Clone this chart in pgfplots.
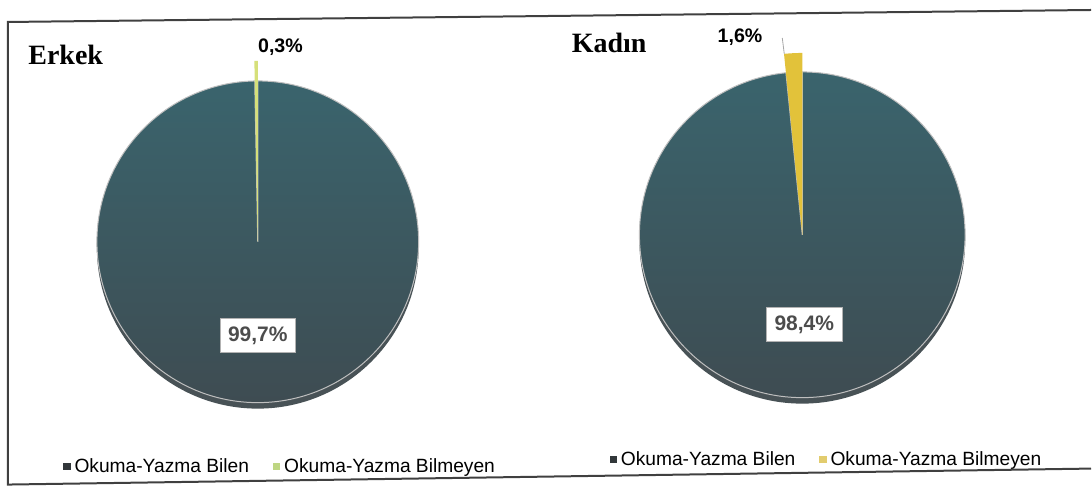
\documentclass[border=0pt]{standalone}
\usepackage{pgfplots}
\usepackage{pgfplotstable}
\pgfplotsset{compat=1.18}
\usepackage{fontspec}
\setmainfont{Liberation Serif}
\newfontfamily\arial{Liberation Sans}
\definecolor{pietop}{RGB}{58,100,109}
\definecolor{piebot}{RGB}{62,76,82}
\definecolor{rim}{RGB}{72,82,86}
\definecolor{erkY}{RGB}{214,224,122}
\definecolor{kadY}{RGB}{226,194,58}
\definecolor{legdark}{RGB}{50,55,58}
\definecolor{legE}{RGB}{190,214,130}
\definecolor{legK}{RGB}{226,204,110}

\pgfplotstableread{
group value
Bilen 99.7
Bilmeyen 0.3
}\erkekdata
\pgfplotstableread{
group value
Bilen 98.4
Bilmeyen 1.6
}\kadindata

\begin{document}
\begin{tikzpicture}
\pgfplotstablegetelem{0}{value}\of\erkekdata
\pgfmathsetmacro\eA{90-3.6*\pgfplotsretval}
\pgfplotstablegetelem{0}{value}\of\kadindata
\pgfmathsetmacro\kA{90-3.6*\pgfplotsretval}
\pgfplotsset{pieaxis/.style={x=0.5pt,y=0.5pt, ymin=0, ymax=494, hide axis, clip=false, anchor=south west,
  legend image code/.code={\fill[##1] (0pt,-1.6pt) rectangle (3.2pt,1.6pt);},
  legend style={draw=none, fill=none, legend columns=2, font=\arial\fontsize{9.6}{11}\selectfont, anchor=west,
    /tikz/every even column/.append style={column sep=10pt}},
  legend cell align=left}}

\begin{axis}[pieaxis, xmin=0, xmax=546, at={(0pt,0pt)}, legend style={at={(0.1044,0.0547)}}]
\addlegendimage{legdark}
\addlegendentry{Okuma-Yazma Bilen}
\addlegendimage{legE}
\addlegendentry{Okuma-Yazma Bilmeyen}
\fill[rim] (258,246) circle[radius=80.5pt];
\draw[draw=black!25, line width=0.5pt, top color=pietop, bottom color=piebot]
  (258,252) -- ++(90:80.5pt) arc[start angle=90, end angle=\eA, radius=80.5pt] -- cycle;
\fill[erkY] (258,252) -- ++(\eA:90.5pt) arc[start angle=\eA, end angle=-270, radius=90.5pt] -- cycle;
\node[anchor=base west, inner sep=0pt, font=\bfseries\fontsize{14}{17}\selectfont] at (28,429) {Erkek};
\node[anchor=base west, inner sep=0pt, font=\arial\bfseries\fontsize{9.8}{11}\selectfont] at (258,441) {0,3\%};
\node[fill=white, draw=black!30, text=black!70, font=\arial\bfseries\fontsize{10.5}{12}\selectfont, inner xsep=4pt, minimum height=17pt] at (258,158) {99,7\%};
\end{axis}

\begin{axis}[pieaxis, xmin=546, xmax=1092, at={(273pt,0pt)}, legend style={at={(0.106,0.0688)}}]
\addlegendimage{legdark}
\addlegendentry{Okuma-Yazma Bilen}
\addlegendimage{legK}
\addlegendentry{Okuma-Yazma Bilmeyen}
\fill[rim] (803,253) circle[radius=81.5pt];
\draw[draw=black!25, line width=0.5pt, top color=pietop, bottom color=piebot]
  (803,259) -- ++(90:81.5pt) arc[start angle=90, end angle=\kA, radius=81.5pt] -- cycle;
\fill[kadY] (803,259) -- ++(\kA:91pt) arc[start angle=\kA, end angle=-270, radius=91pt] -- cycle;
\draw[black!35, line width=0.4pt] (785,440) -- (783,456);
\node[anchor=base west, inner sep=0pt, font=\bfseries\fontsize{14}{17}\selectfont] at (572,441) {Kadın};
\node[anchor=base west, inner sep=0pt, font=\arial\bfseries\fontsize{9.8}{11}\selectfont] at (718,451) {1,6\%};
\node[fill=white, draw=black!30, text=black!70, font=\arial\bfseries\fontsize{10.5}{12}\selectfont, inner xsep=4pt, minimum height=17pt] at (805,169) {98,4\%};
\end{axis}

\begin{scope}[x=0.5pt,y=0.5pt]
\draw[black!75, line width=1pt] (1092,25) -- (8,9) -- (8,472) -- (1092,484);
\path (0,0) rectangle (1092,494);
\end{scope}
\end{tikzpicture}
\end{document}
